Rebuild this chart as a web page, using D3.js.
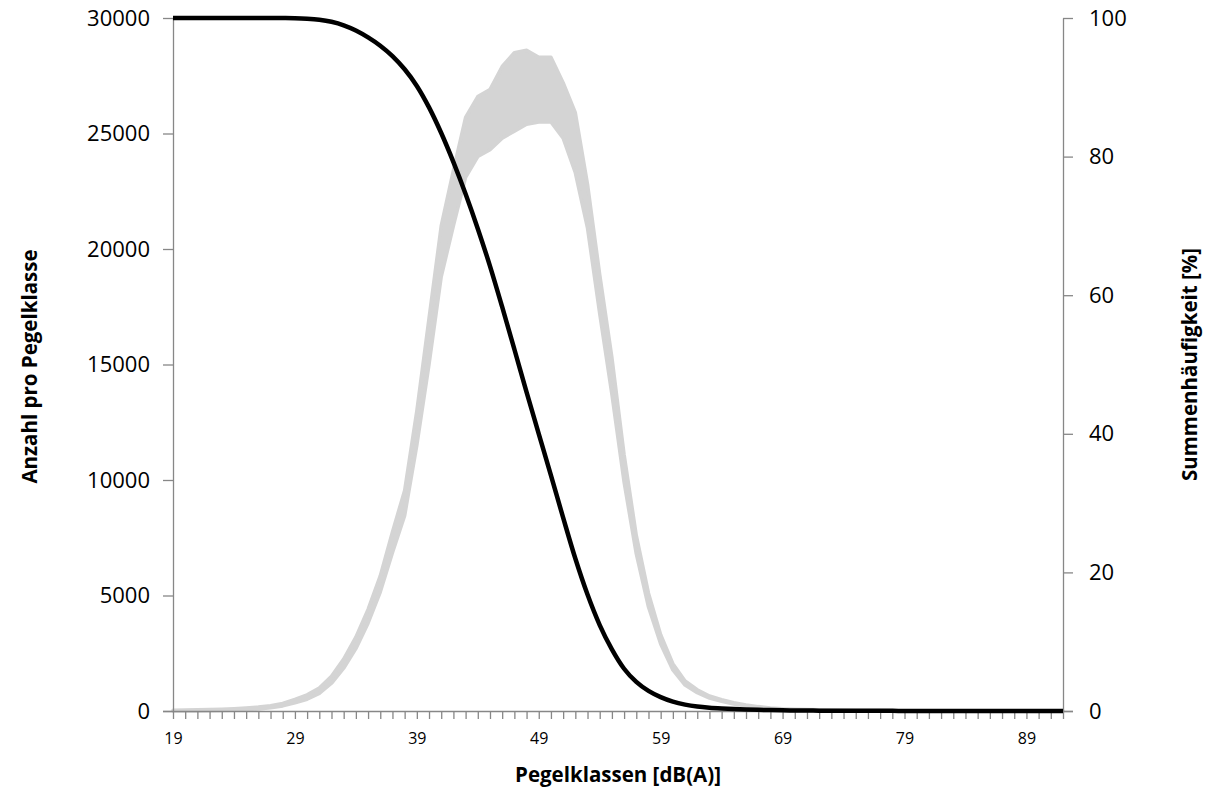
<!DOCTYPE html>
<html>
<head>
<meta charset="utf-8">
<script src="https://cdn.jsdelivr.net/npm/d3@7"></script>
<style>
  body { margin: 0; background: #fff; }
  svg { display: block; font-family: "Open Sans", "Noto Sans", sans-serif; }
  .axis path, .axis line { stroke: #878787; stroke-width: 1.3; }
  .axis text { fill: #000; font-family: "Open Sans", "Noto Sans", sans-serif; }
</style>
</head>
<body>
<div id="chart"></div>
<script>
// level classes in dB(A)
const levels = [19, 20, 21, 22, 23, 24, 25, 26, 27, 28, 29, 30, 31, 32, 33, 34, 35, 36, 37, 38,
  39, 40, 41, 42, 43, 44, 45, 46, 47, 48, 49, 50, 51, 52, 53, 54, 55, 56, 57, 58,
  59, 60, 61, 62, 63, 64, 65, 66, 67, 68, 69, 70, 71, 72, 73, 74, 75, 76, 77, 78,
  79, 80, 81, 82, 83, 84, 85, 86, 87, 88, 89, 90, 91, 92];

// lower and upper edge of the count per level class (the grey band)
const countLow = [0, 0, 5, 10, 20, 35, 55, 90, 140, 220, 350, 510, 760, 1200, 1850, 2700, 3800, 5150, 6850, 8450,
  11500, 15000, 18800, 21000, 23100, 24000, 24300, 24800, 25100, 25400, 25500, 25500, 24800, 23300, 20900, 17200, 13700, 9900, 6800, 4500,
  2900, 1780, 1120, 790, 560, 420, 300, 220, 155, 110, 80, 60, 48, 38, 30, 23, 18, 14, 11, 8,
  6, 5, 4, 3, 2, 2, 1, 1, 1, 0, 0, 0, 0, 0];
const countHigh = [30, 40, 50, 60, 80, 100, 130, 170, 230, 330, 500, 700, 1000, 1500, 2250, 3200, 4400, 5850, 7750, 9550,
  13000, 17000, 21000, 23400, 25700, 26600, 26900, 27900, 28500, 28600, 28300, 28300, 27200, 25900, 22800, 18900, 15300, 11100, 7600, 5100,
  3300, 2050, 1300, 920, 650, 490, 360, 265, 190, 135, 100, 80, 64, 52, 42, 34, 27, 22, 18, 14,
  11, 9, 8, 6, 5, 4, 3, 3, 2, 2, 2, 1, 1, 1];

// cumulative frequency in percent
const cumulative = [100, 100, 100, 100, 100, 100, 100, 100, 100, 99.99, 99.97, 99.9, 99.75, 99.45, 98.95, 98.2, 97.2, 96.0, 94.5, 92.6,
  90.2, 87.1, 83.4, 79.2, 74.6, 69.6, 64.2, 58.3, 52.2, 46.0, 40.0, 34.0, 27.9, 22.0, 16.8, 12.4, 8.9, 6.1, 4.2, 2.9,
  2.0, 1.35, 0.92, 0.64, 0.47, 0.36, 0.28, 0.22, 0.17, 0.13, 0.1, 0.08, 0.06, 0.05, 0.04, 0.03, 0.03, 0.02, 0.02, 0.02,
  0.01, 0.01, 0.01, 0.01, 0.01, 0, 0, 0, 0, 0, 0, 0, 0, 0];

const leftTicks = [0, 5000, 10000, 15000, 20000, 25000, 30000];
const rightTicks = [0, 20, 40, 60, 80, 100];
const xLabels = [19, 29, 39, 49, 59, 69, 79, 89];

const W = 1206, H = 792;
const margin = {top: 18, right: 143, bottom: 81, left: 173};

const svg = d3.select("#chart").append("svg")
  .attr("width", W)
  .attr("height", H);

const x = d3.scaleLinear().domain([19, 92]).range([margin.left, W - margin.right]);
const yL = d3.scaleLinear().domain([0, 30000]).range([H - margin.bottom, margin.top]);
const yR = d3.scaleLinear().domain([0, 100]).range([H - margin.bottom, margin.top]);

const rows = levels.map((l, i) => ({l, lo: countLow[i], hi: countHigh[i], c: cumulative[i]}));

// grey histogram band
const area = d3.area()
  .x(d => x(d.l))
  .y0(d => yL(d.lo))
  .y1(d => yL(d.hi));

svg.append("path")
  .datum(rows)
  .attr("d", area)
  .attr("fill", "#d4d4d4")
  .attr("stroke", "#d4d4d4")
  .attr("stroke-width", 3.5)
  .attr("stroke-linejoin", "round");

// axes
const xAxis = d3.axisBottom(x)
  .tickValues(levels)
  .tickSize(8)
  .tickSizeOuter(0)
  .tickPadding(14)
  .tickFormat(d => xLabels.includes(d) ? d : "");

const gx = svg.append("g")
  .attr("class", "axis")
  .attr("transform", `translate(0,${H - margin.bottom})`)
  .call(xAxis)
  .attr("font-family", null);
gx.selectAll("text").style("font-size", "16px");
gx.select(".domain").attr("d", `M${margin.left - 10},0.5H${W - margin.right + 10}`);

const gl = svg.append("g")
  .attr("class", "axis")
  .attr("transform", `translate(${margin.left},0)`)
  .call(d3.axisLeft(yL).tickValues(leftTicks).tickFormat(d3.format("d"))
    .tickSize(10).tickSizeOuter(0).tickPadding(13))
  .attr("font-family", null);
gl.selectAll("text").style("font-size", "22px");

const gr = svg.append("g")
  .attr("class", "axis")
  .attr("transform", `translate(${W - margin.right},0)`)
  .call(d3.axisRight(yR).tickValues(rightTicks).tickSize(10).tickSizeOuter(0).tickPadding(16))
  .attr("font-family", null);
gr.selectAll("text").style("font-size", "22px");

// cumulative line
const line = d3.line()
  .x(d => x(d.l))
  .y(d => yR(d.c))
  .curve(d3.curveMonotoneX);

svg.append("path")
  .datum(rows)
  .attr("d", line)
  .attr("fill", "none")
  .attr("stroke", "#000")
  .attr("stroke-width", 4.5)
  .attr("stroke-linejoin", "round");

// axis titles
svg.append("text")
  .attr("x", (margin.left + W - margin.right) / 2)
  .attr("y", 782)
  .attr("text-anchor", "middle")
  .style("font-size", "20.5px")
  .style("font-weight", "bold")
  .text("Pegelklassen [dB(A)]");

svg.append("text")
  .attr("transform", `translate(37,${(margin.top + H - margin.bottom) / 2 + 2}) rotate(-90)`)
  .attr("text-anchor", "middle")
  .style("font-size", "20.5px")
  .style("font-weight", "bold")
  .text("Anzahl pro Pegelklasse");

svg.append("text")
  .attr("transform", `translate(1197,${(margin.top + H - margin.bottom) / 2}) rotate(-90)`)
  .attr("text-anchor", "middle")
  .style("font-size", "20.5px")
  .style("font-weight", "bold")
  .text("Summenhäufigkeit [%]");
</script>
</body>
</html>
